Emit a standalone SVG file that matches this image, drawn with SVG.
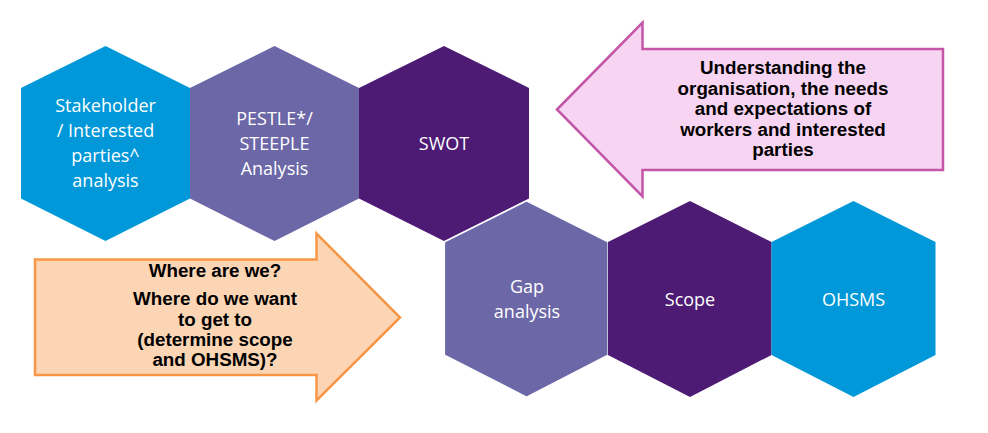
<svg xmlns="http://www.w3.org/2000/svg" width="988" height="433" viewBox="0 0 988 433">
  <style>
    .hex-blue { fill: #0098D8; }
    .hex-lav { fill: #6C67A7; }
    .hex-dark { fill: #4D1A74; }
    .hex-label { font-family: "Open Sans", "DejaVu Sans", sans-serif; font-size: 18px; fill: #FFFFFF; text-anchor: middle; }
    .callout-text { font-family: "Liberation Sans", Arial, sans-serif; font-size: 18.8px; font-weight: bold; fill: #000000; text-anchor: middle; }
    .arrow-pink { fill: #F7D4F1; stroke: #C456A8; stroke-width: 2.5; stroke-linejoin: miter; }
    .arrow-orange { fill: #FBD5B4; stroke: #F79646; stroke-width: 2.5; stroke-linejoin: miter; }
  </style>
  <rect width="988" height="433" fill="#FFFFFF"/>

  <!-- top row of hexagons -->
  <g id="hex-stakeholder">
    <polygon class="hex-blue" points="105.5,46 190,88 190,198.5 105.5,241 21,198.5 21,88"/>
    <text class="hex-label" x="105.5" y="111.5">Stakeholder</text>
    <text class="hex-label" x="105.5" y="136.5">/ Interested</text>
    <text class="hex-label" x="105.5" y="162">parties^</text>
    <text class="hex-label" x="105.5" y="187">analysis</text>
  </g>
  <g id="hex-pestle">
    <polygon class="hex-lav" points="274.5,46 359,88 359,198.5 274.5,241 190,198.5 190,88"/>
    <text class="hex-label" x="274.5" y="124.5">PESTLE*/</text>
    <text class="hex-label" x="274.5" y="150">STEEPLE</text>
    <text class="hex-label" x="274.5" y="175">Analysis</text>
  </g>
  <g id="hex-swot">
    <polygon class="hex-dark" points="444,46 529,88 529,198.5 444,241 359,198.5 359,88"/>
    <text class="hex-label" x="444" y="149.5">SWOT</text>
  </g>

  <!-- bottom row of hexagons -->
  <g id="hex-gap">
    <polygon class="hex-lav" points="526.5,201 608,242 608,355 526.5,397 444.5,355 444.5,242" stroke="#FFFFFF" stroke-width="1.2"/>
    <text class="hex-label" x="527" y="292.5">Gap</text>
    <text class="hex-label" x="527" y="317.5">analysis</text>
  </g>
  <g id="hex-scope">
    <polygon class="hex-dark" points="690,201 771.5,242 771.5,355 690,397 608,355 608,242"/>
    <text class="hex-label" x="690" y="305.5">Scope</text>
  </g>
  <g id="hex-ohsms">
    <polygon class="hex-blue" points="853.5,201 935.5,242 935.5,355 853.5,397 771.5,355 771.5,242"/>
    <text class="hex-label" x="853.5" y="305.5">OHSMS</text>
  </g>

  <!-- callout arrows -->
  <g id="callout-understanding">
    <polygon class="arrow-pink" points="557,109.5 642.5,22.5 642.5,49 943,49 943,170 642.5,170 642.5,196.5"/>
    <text class="callout-text" x="783" y="74">Understanding the</text>
    <text class="callout-text" x="783" y="94.5">organisation, the needs</text>
    <text class="callout-text" x="783" y="115">and expectations of</text>
    <text class="callout-text" x="783" y="135.5">workers and interested</text>
    <text class="callout-text" x="783" y="156">parties</text>
  </g>
  <g id="callout-where">
    <polygon class="arrow-orange" points="35,259.5 316.5,259.5 316.5,233.5 400,317.5 316.5,400.5 316.5,375 35,375"/>
    <text class="callout-text" x="215" y="276.5">Where are we?</text>
    <text class="callout-text" x="215" y="305">Where do we want</text>
    <text class="callout-text" x="215" y="325.5">to get to</text>
    <text class="callout-text" x="215" y="346">(determine scope</text>
    <text class="callout-text" x="215" y="366">and OHSMS)?</text>
  </g>

  <!-- no connectors in this figure -->
  <g id="connectors"/>
</svg>
